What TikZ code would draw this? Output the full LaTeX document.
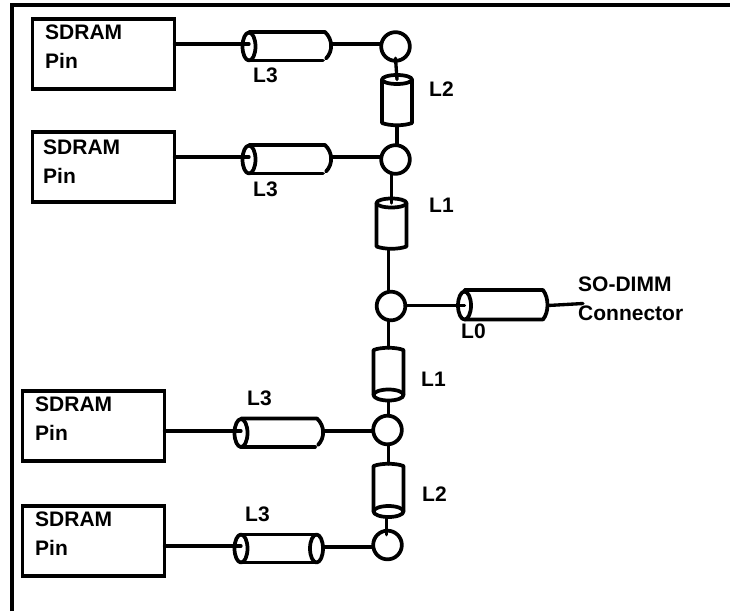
\documentclass[tikz,border=0pt]{standalone}
\usepackage{fontspec}
\setmainfont{Liberation Sans}
\begin{document}
\begin{tikzpicture}[x=0.75pt,y=-0.75pt,
  wire/.style={line width=2.5pt,line cap=round,line join=round},
  shapeline/.style={line width=2.8pt,line cap=round,line join=round},
  pinbox/.style={draw,line width=2.6pt,minimum width=106.5pt,minimum height=52.5pt,inner sep=0,outer sep=0},
  junct/.style={circle,draw,line width=2.8pt,minimum size=21.5pt,inner sep=0,outer sep=0,fill=white},
  lbl/.style={font=\bfseries\fontsize{15.75}{18}\selectfont,inner sep=0,anchor=base west,xshift=-0.8pt,yshift=0.5pt}]
\useasboundingbox (0,0) rectangle (730,611);
% frame
\coordinate (fa) at (12,611);
\coordinate (fb) at (12,5.3);
\coordinate (fc) at (730,5.3);
\draw[line width=3pt,line join=miter] (fa) -- (fb) -- (fc);
% boxes
\node[pinbox] (b1) at (103.5,54) {};
\node[pinbox] (b2) at (103.5,167) {};
\node[pinbox] (b3) at (93.5,426) {};
\node[pinbox] (b4) at (93.5,541) {};
\node[lbl] at (46,40) {SDRAM};
\node[lbl] at (46,69) {Pin};
\node[lbl] at (44,155) {SDRAM};
\node[lbl] at (44,184) {Pin};
\node[lbl] at (36,412) {SDRAM};
\node[lbl] at (36,441) {Pin};
\node[lbl] at (36,527) {SDRAM};
\node[lbl] at (36,556) {Pin};
% junctions
\node[junct] (j1) at (395.5,46.5) {};
\node[junct] (j2) at (395.5,159.5) {};
\node[junct] (j3) at (391,306) {};
\node[junct] (j4) at (387.5,430) {};
\node[junct] (j5) at (387.5,545) {};
% horizontal cylinders: name, ellipse x, ellipse y, wire y
\newcommand{\hcyl}[4]{%
  \coordinate (#1l) at (#2,#4);
  \coordinate (#1r) at (#2+83.5,#4);
  \draw[shapeline] (#2,#3-14.5) -- (#2+76,#3-14.5) .. controls (#2+84,#3-7) and (#2+84,#3+5) .. (#2+77,#3+12);
  \draw[shapeline] (#2,#3+14) -- (#2+74,#3+14);
  \draw[shapeline,fill=white] (#2,#3) ellipse [x radius=6.5,y radius=14];
}
\hcyl{c1}{249}{46.5}{44}
\hcyl{c2}{249}{159.5}{157}
\hcyl{c3}{241}{433}{431}
% last lower cylinder closed by a second ellipse
\coordinate (c4l) at (241,546);
\coordinate (c4r) at (324,547);
\draw[shapeline] (241,534.5) -- (316.5,534.5);
\draw[shapeline] (241,562.5) -- (316.5,562.5);
\draw[shapeline,fill=white] (241,548.5) ellipse [x radius=6.5,y radius=14];
\draw[shapeline,fill=white] (316.5,548.5) ellipse [x radius=6.5,y radius=14];
% L0 cylinder
\coordinate (c0l) at (464.5,305.5);
\coordinate (c0r) at (548,305.5);
\coordinate (conn) at (583,303.5);
\draw[shapeline] (464.5,290) -- (543,290) .. controls (549,298) and (549,312) .. (543,319.5) -- (464.5,319.5);
\draw[shapeline,fill=white] (464.5,305.5) ellipse [x radius=6.5,y radius=14];
% vertical cylinders: name, x, ellipse y, bottom y
\newcommand{\vcyltop}[4]{%
  \coordinate (#1t) at (#2,#3);
  \coordinate (#1b) at (#2,#4);
  \draw[shapeline] (#2-15,#3) -- (#2-15,#4-3) .. controls (#2-7,#4) and (#2+7,#4) .. (#2+15,#4-3) -- (#2+15,#3);
  \draw[shapeline,fill=white] (#2,#3) ellipse [x radius=15,y radius=4.5];
}
% name, x, top y, ellipse y
\newcommand{\vcylbot}[4]{%
  \coordinate (#1t) at (#2,#3);
  \coordinate (#1b) at (#2,#4+6);
  \draw[shapeline] (#2-15,#4) -- (#2-15,#3+2) .. controls (#2-7,#3-1) and (#2+7,#3-1) .. (#2+15,#3+2) -- (#2+15,#4);
  \draw[shapeline,fill=white] (#2,#4) ellipse [x radius=15,y radius=5.5];
}
\vcyltop{v1}{397}{79.5}{126}
\vcyltop{v2}{391.5}{203}{249.5}
\vcylbot{v3}{388.5}{348}{395}
\vcylbot{v4}{388.5}{464}{511.5}
% connectors
\draw[wire] (c1l -| b1.east) -- (c1l);
\draw[wire] (c2l -| b2.east) -- (c2l);
\draw[wire] (c3l -| b3.east) -- (c3l);
\draw[wire] (c4l -| b4.east) -- (c4l);
\draw[wire] (c1r) -- (c1r -| j1.west);
\draw[wire] (c2r) -- (c2r -| j2.west);
\draw[wire] (c3r) -- (c3r -| j4.west);
\draw[wire] (c4r) -- (c4r -| j5.west);
\draw[wire] (c0l) -- (c0l -| j3.east);
\draw[wire] (c0r) -- (conn);
\draw[wire] ([yshift=2pt]j1.south) -- (v1t);
\draw[wire] (v1b) -- (v1b |- j2.north);
\draw[wire] (v2t |- j2.south) -- (v2t);
\draw[wire] ([xshift=-2.2pt]v2b) -- ([xshift=-2.2pt]v2b |- j3.north);
\draw[wire] (v3t |- j3.south) -- (v3t);
\draw[wire] (v3b) -- (v3b |- j4.north);
\draw[wire] (v4t |- j4.south) -- (v4t);
\draw[wire] ([xshift=-1.5pt]v4b) -- ([xshift=-1.5pt,yshift=-3pt]v4b |- j5.north);
% labels
\node[lbl] at (254,83) {L3};
\node[lbl] at (254,197) {L3};
\node[lbl] at (248,406) {L3};
\node[lbl] at (246,522) {L3};
\node[lbl] at (430,97) {L2};
\node[lbl] at (430,213) {L1};
\node[lbl] at (422,387) {L1};
\node[lbl] at (423,502) {L2};
\node[lbl] at (462,339) {L0};
\node[lbl] at (579,292) {SO-DIMM};
\node[lbl] at (579,321) {Connector};
\end{tikzpicture}
\end{document}
